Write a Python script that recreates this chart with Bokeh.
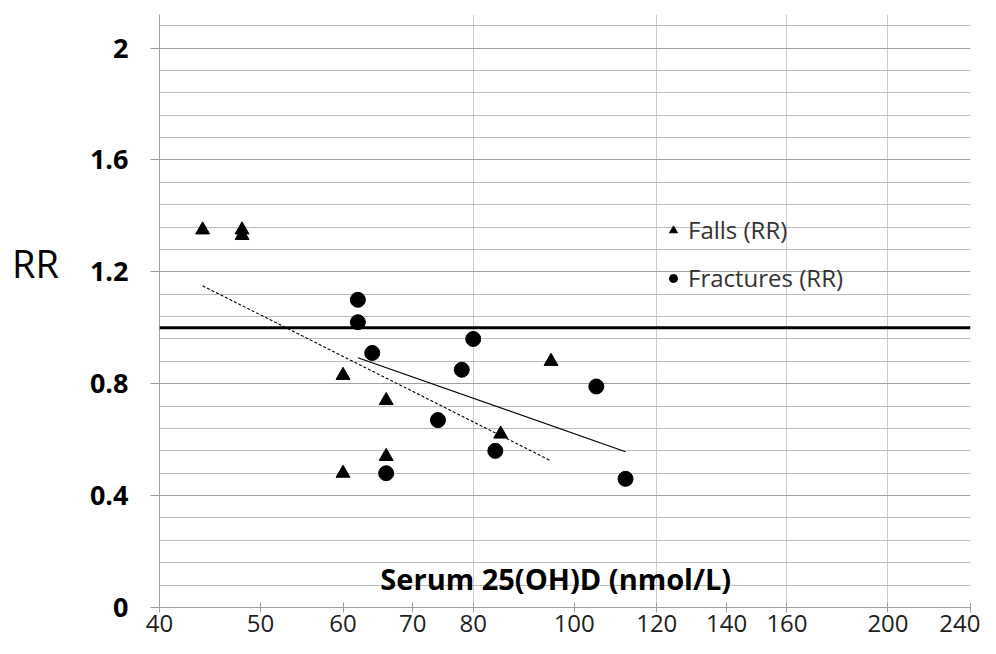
from bokeh.plotting import figure
from bokeh.layouts import row
from bokeh.models import (FixedTicker, Span, Label, Legend, LegendItem,
                          NumeralTickFormatter)
from bokeh.core.properties import value
from bokeh.embed import file_html
from bokeh.resources import INLINE

# ---- data ----
falls_x = [44, 48, 48, 60, 60, 66, 66, 85, 95]
falls_rr = [1.35, 1.35, 1.33, 0.83, 0.48, 0.74, 0.54, 0.62, 0.88]
fract_x = [62, 62, 64, 66, 74, 78, 80, 84, 105, 112]
fract_rr = [1.10, 1.02, 0.91, 0.48, 0.67, 0.85, 0.96, 0.56, 0.79, 0.46]
falls_trend_x = [44, 95]
falls_trend_rr = [1.15, 0.524]
fract_trend_x = [62, 112]
fract_trend_rr = [0.893, 0.557]
x_ticks = [40, 50, 60, 70, 80, 100, 120, 140, 160, 200, 240]
x_grid_ticks = [80, 120, 160, 200, 240]
y_ticks = [0, 0.4, 0.8, 1.2, 1.6, 2.0]
y_minor = [0.08, 0.16, 0.24, 0.32, 0.48, 0.56, 0.64, 0.72, 0.88, 0.96,
           1.04, 1.12, 1.28, 1.36, 1.44, 1.52, 1.68, 1.76, 1.84, 1.92, 2.08]
reference_rr = 1.0
labels = ["Falls (RR)", "Fractures (RR)"]
x_title = "Serum 25(OH)D (nmol/L)"
y_title = "RR"

FONT = "Open Sans"
Y_RANGE = (0, 2.12)
LEFT_W = 70

# ---- narrow side panel carrying the "RR" title ----
side = figure(width=LEFT_W, height=638, x_range=(0, LEFT_W), y_range=Y_RANGE,
              output_backend="svg", toolbar_location=None,
              x_axis_location=None, y_axis_location=None,
              min_border_left=0, min_border_right=0,
              min_border_top=14, min_border_bottom=31)
side.outline_line_color = None
side.xgrid.visible = False
side.ygrid.visible = False
side.text(x=[LEFT_W / 2], y=[1.23], text=[y_title], text_font=value(FONT),
          text_font_size="38px", text_align="center",
          text_baseline="middle", text_color="black")

# ---- main chart ----
p = figure(width=980 - LEFT_W, height=638, x_axis_type="log",
           x_range=(40, 240), y_range=Y_RANGE,
           output_backend="svg", toolbar_location=None,
           min_border_left=159 - LEFT_W, min_border_right=10,
           min_border_top=14, min_border_bottom=31)
p.outline_line_color = None
p.background_fill_color = "white"

# grids
p.ygrid.ticker = FixedTicker(ticks=y_ticks, minor_ticks=y_minor)
p.ygrid.grid_line_color = "#a0a0a0"
p.ygrid.grid_line_width = 1
p.ygrid.minor_grid_line_color = "#bcbcbc"
p.ygrid.minor_grid_line_width = 1
p.xgrid.ticker = FixedTicker(ticks=x_grid_ticks)
p.xgrid.grid_line_color = "#cccccc"
p.xgrid.grid_line_width = 1

# axes
xa = p.xaxis[0]
xa.ticker = FixedTicker(ticks=x_ticks)
xa.formatter = NumeralTickFormatter(format="0")
xa.axis_line_color = "#a0a0a0"
xa.major_tick_line_color = "#a0a0a0"
xa.major_tick_in = 5
xa.major_tick_out = 5
xa.minor_tick_line_color = None
xa.major_label_text_font = FONT
xa.major_label_text_font_size = "24px"
xa.major_label_text_color = "#1e1e1e"
xa.major_label_standoff = 2

ya = p.yaxis[0]
ya.ticker = FixedTicker(ticks=y_ticks)
ya.axis_line_color = "#a0a0a0"
ya.major_tick_line_color = "#a0a0a0"
ya.major_tick_in = 0
ya.major_tick_out = 9
ya.minor_tick_line_color = None
ya.major_label_text_font = FONT
ya.major_label_text_font_size = "27px"
ya.major_label_text_font_style = "bold"
ya.major_label_text_color = "black"
ya.major_label_standoff = 22
ya.major_label_overrides = {0: "0", 2.0: "2"}

# reference line
p.add_layout(Span(location=reference_rr, dimension="width",
                  line_color="black", line_width=3))

# trend lines
p.line(falls_trend_x, falls_trend_rr, line_color="black", line_width=1.1,
       line_dash="3 2")
p.line(fract_trend_x, fract_trend_rr, line_color="black", line_width=1.2)

# points
r_falls = p.scatter(falls_x, falls_rr, marker="triangle", size=14,
                    fill_color="black", line_color="black")
r_fract = p.scatter(fract_x, fract_rr, marker="circle", size=15,
                    fill_color="black", line_color="black")

legend = Legend(items=[LegendItem(label=labels[0], renderers=[r_falls]),
                       LegendItem(label=labels[1], renderers=[r_fract])],
                location=(504, 313), padding=0, margin=0, spacing=15,
                glyph_width=20, glyph_height=24, label_height=24,
                label_standoff=5, background_fill_alpha=0,
                border_line_alpha=0,
                label_text_font=FONT, label_text_font_size="24px",
                label_text_color="#333333")
p.add_layout(legend)

# x axis title (inside the plot area, as in the original)
p.add_layout(Label(x=96, y=0.105, text=x_title, text_font=FONT,
                   text_font_size="29px", text_font_style="bold",
                   text_align="center", text_baseline="middle",
                   text_color="black"))

layout = row(side, p, spacing=0)
open("out.html", "w").write(file_html(layout, INLINE))
